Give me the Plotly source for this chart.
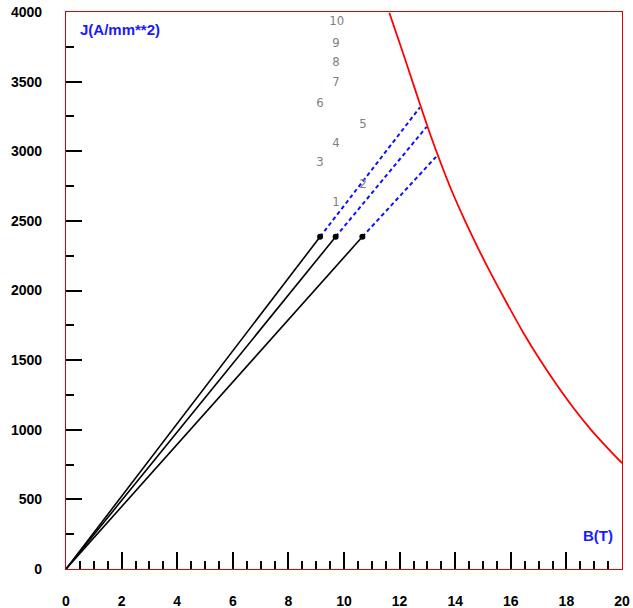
import plotly.graph_objects as go

# Critical-current curve J_c(B)
crit_b = [11.63, 12.01, 12.37, 12.76, 13.09, 13.45, 13.87, 14.35, 14.87, 15.25,
          15.85, 16.45, 17.05, 17.65, 18.25, 18.85, 19.45, 20.0]
crit_j = [3995, 3772, 3557, 3322, 3128, 2932, 2718, 2502, 2285, 2135,
          1912, 1697, 1502, 1323, 1158, 1008, 875, 760]

# Load lines: operating points and their extensions to the critical curve
op_b = [9.14, 9.70, 10.66]
op_j = [2386, 2386, 2386]
quench_b = [12.73, 12.97, 13.31]
quench_j = [3315, 3175, 2960]

# Numbered point labels
pt_names = ["1", "2", "3", "4", "5", "6", "7", "8", "9", "10"]
pt_b = [9.71, 10.68, 9.14, 9.71, 10.68, 9.14, 9.71, 9.71, 9.71, 9.74]
pt_j = [2628, 2758, 2916, 3052, 3188, 3339, 3490, 3634, 3770, 3930]

x_ticks = [0, 2, 4, 6, 8, 10, 12, 14, 16, 18, 20]
y_ticks = [0, 500, 1000, 1500, 2000, 2500, 3000, 3500, 4000]

fig = go.Figure()

for b, j, qb, qj in zip(op_b, op_j, quench_b, quench_j):
    fig.add_trace(go.Scatter(x=[b, qb], y=[j, qj], mode="lines",
                             line=dict(color="#1010ff", width=2, dash="4px,3px"),
                             hoverinfo="skip"))
    fig.add_trace(go.Scatter(x=[0, b], y=[0, j], mode="lines",
                             line=dict(color="black", width=1.6),
                             hoverinfo="skip"))

fig.add_trace(go.Scatter(x=op_b, y=op_j, mode="markers",
                         marker=dict(color="black", size=6)))

fig.add_trace(go.Scatter(x=crit_b, y=crit_j, mode="lines",
                         line=dict(color="#ff0000", width=1.8, shape="spline", smoothing=0.8)))

fig.add_trace(go.Scatter(x=pt_b, y=pt_j, mode="text", text=pt_names,
                         textfont=dict(family="Liberation Sans Narrow, DejaVu Sans Condensed",
                                       size=13, color="#808080")))

tick_font = dict(family="Liberation Sans, Arial", size=14, color="black", weight="bold")

fig.update_layout(
    width=633, height=608,
    margin=dict(l=66, r=11, t=12, b=39),
    paper_bgcolor="white", plot_bgcolor="white",
    showlegend=False,
    xaxis=dict(range=[0, 20], tickvals=x_ticks, ticks="inside", ticklen=17,
               tickwidth=1.5, tickcolor="black", showgrid=False, zeroline=False,
               showline=True, linecolor="#e00000", linewidth=1.2, mirror=True,
               tickfont=tick_font, ticklabelstandoff=19, automargin=False,
               minor=dict(dtick=0.5, ticks="inside", ticklen=8, tickwidth=1.5,
                          tickcolor="black", showgrid=False)),
    yaxis=dict(range=[0, 4000], tickvals=y_ticks, ticks="inside", ticklen=16,
               tickwidth=1.5, tickcolor="black", showgrid=False, zeroline=False,
               showline=True, linecolor="#e00000", linewidth=1.2, mirror=True,
               tickfont=tick_font, ticklabelstandoff=20, automargin=False,
               minor=dict(dtick=250, ticks="inside", ticklen=8, tickwidth=1.5,
                          tickcolor="black", showgrid=False)),
    annotations=[
        dict(text="J(A/mm**2)", xref="paper", yref="paper", x=0.022, y=0.968,
             xanchor="left", yanchor="middle", showarrow=False,
             font=dict(family="Liberation Sans, Arial", size=15, color="#1a1aff", weight="bold")),
        dict(text="B(T)", xref="paper", yref="paper", x=0.988, y=0.060,
             xanchor="right", yanchor="middle", showarrow=False,
             font=dict(family="Liberation Sans, Arial", size=15, color="#1a1aff", weight="bold")),
    ],
)

fig.write_html("out.html")
